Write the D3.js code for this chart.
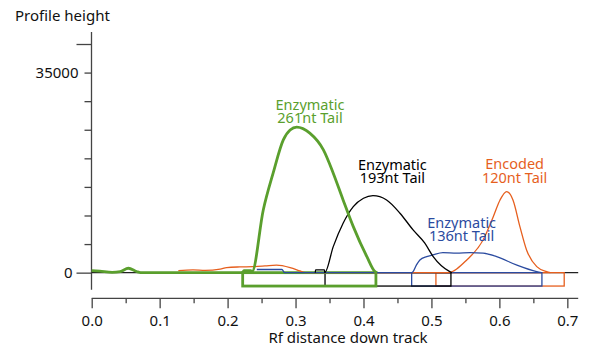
<!DOCTYPE html>
<html>
<head>
<meta charset="utf-8">
<script src="https://cdn.jsdelivr.net/npm/d3@7"></script>
<style>
  body { margin: 0; background: #fff; }
  text { font-family: "Noto Sans", sans-serif; }
</style>
</head>
<body>
<svg id="chart"></svg>
<script>
// profile traces: [Rf, height]
const green = [
  [0, 350], [0.012, 250], [0.03, 60], [0.042, 200], [0.054, 770], [0.066, 200], [0.072, 0],
  [0.222, 0], [0.224, 350], [0.234, 350], [0.236, 175], [0.2525, 10970], [0.267, 17400],
  [0.282, 23220], [0.292, 24950], [0.3017, 25450], [0.321, 24400], [0.341, 21470],
  [0.3555, 17400], [0.370, 12720], [0.385, 8050], [0.405, 2800], [0.417, 175], [0.42, 0]
];
const black = [
  [0.329, 0], [0.3295, 470], [0.3425, 470], [0.343, 0], [0.3555, 4550], [0.370, 8645],
  [0.385, 11550], [0.400, 13020], [0.414, 13475], [0.434, 12720], [0.4537, 10400],
  [0.473, 7470], [0.490, 5200], [0.5026, 2800], [0.527, 175], [0.53, 0]
];
const blue = [
  [0.243, 550], [0.28, 550], [0.284, 0], [0.471, 0], [0.473, 175], [0.478, 1350],
  [0.483, 2220], [0.493, 2800], [0.502, 3100], [0.517, 3500], [0.537, 3400], [0.557, 3500],
  [0.576, 3400], [0.596, 2800], [0.625, 1350], [0.655, 175], [0.662, 0]
];
const orange = [
  [0.1275, 350], [0.149, 470], [0.167, 385], [0.189, 600], [0.1986, 875], [0.218, 1000],
  [0.237, 1050], [0.255, 1170], [0.272, 1300], [0.292, 875], [0.3065, 300], [0.314, 0],
  [0.524, 0], [0.552, 2220], [0.576, 5720], [0.591, 9800], [0.601, 12720], [0.6107, 14175],
  [0.620, 12720], [0.6302, 8050], [0.640, 3970], [0.655, 1050], [0.6695, 175], [0.675, 0]
];

// band ranges under the baseline: [start, end]
const greenBand = [0.2222, 0.4183];
const blackBand = [0.3434, 0.5287];
const blueBand = [0.4709, 0.6626];
const orangeBand = [0.5066, 0.6954];

const labelLines = [
  ['Enzymatic', '261nt Tail'],
  ['Enzymatic', '193nt Tail'],
  ['Enzymatic', '136nt Tail'],
  ['Encoded', '120nt Tail']
];
// label anchor [Rf, height] of the top line
const labelAt = [[0.3213, 28500], [0.4425, 18000], [0.5445, 7850], [0.6225, 18050]];

const yTicks = [0, 5000, 10000, 15000, 20000, 25000, 30000, 35000, 40000];
const yLabelled = [0, 35000];
const xTicks = [0, 0.05, 0.1, 0.15, 0.2, 0.25, 0.3, 0.35, 0.4, 0.45, 0.5, 0.55, 0.6, 0.65, 0.7];

const width = 592, height = 347;
const svg = d3.select('#chart').attr('width', width).attr('height', height);

const x = d3.scaleLinear().domain([0, 0.716]).range([91.7, 578.2]);
const y = d3.scaleLinear().domain([-3000, 42100]).range([289.8, 32]);

const axisColor = '#444';

// y axis
const yAxis = svg.append('g')
  .attr('transform', 'translate(91.5,0)')
  .call(d3.axisLeft(y).tickValues(yTicks).tickSize(7)
    .tickFormat(d => yLabelled.includes(d) ? d : ''));
yAxis.select('.domain').remove();
yAxis.append('line').attr('y1', y(-3000)).attr('y2', y(42100))
  .attr('stroke', axisColor).attr('stroke-width', 1.3);
yAxis.selectAll('.tick line')
  .attr('x2', d => (d === 0 || d === 40000) ? -15 : -7)
  .attr('stroke', axisColor).attr('stroke-width', 1.3);
yAxis.selectAll('.tick text')
  .attr('x', d => d === 0 ? -19 : -13)
  .attr('font-size', 15).attr('fill', '#111');

// x axis
const xAxis = svg.append('g')
  .attr('transform', 'translate(0,298.3)')
  .call(d3.axisBottom(x).tickValues(xTicks).tickSize(10)
    .tickFormat(d => Math.round(d * 100) % 10 === 0 ? d3.format('.1f')(d) : ''));
xAxis.select('.domain').remove();
xAxis.append('line').attr('x1', x(0)).attr('x2', x(0.716))
  .attr('stroke', axisColor).attr('stroke-width', 1.3);
xAxis.selectAll('.tick line')
  .attr('y2', d => Math.round(d * 100) % 10 === 0 ? 10 : 5)
  .attr('stroke', axisColor).attr('stroke-width', 1.3);
xAxis.selectAll('.tick text')
  .attr('y', 28).attr('dy', 0)
  .attr('font-size', 15).attr('fill', '#111');

// axis titles
svg.append('text').attr('x', 15).attr('y', 21)
  .attr('font-size', 15).attr('fill', '#111').text('Profile height');
svg.append('text').attr('x', 348).attr('y', 343).attr('text-anchor', 'middle')
  .attr('font-size', 15).attr('fill', '#111').text('Rf distance down track');

// baseline
svg.append('line')
  .attr('x1', x(0)).attr('x2', x(0.716))
  .attr('y1', y(0)).attr('y2', y(0))
  .attr('stroke', '#222').attr('stroke-width', 1.2);

const series = [
  { data: orange, band: orangeBand, color: '#e65f1e', w: 1.3 },
  { data: blue, band: blueBand, color: '#2b4ba0', w: 1.3 },
  { data: black, band: blackBand, color: '#000000', w: 1.3 },
  { data: green, band: greenBand, color: '#5a9f2d', w: 2.8 }
];

const line = d3.line()
  .x(d => x(d[0]))
  .y(d => y(d[1]))
  .curve(d3.curveMonotoneX);

const boxDepth = 13.4;

series.forEach(s => {
  svg.append('rect')
    .attr('x', x(s.band[0]))
    .attr('y', y(0))
    .attr('width', x(s.band[1]) - x(s.band[0]))
    .attr('height', boxDepth)
    .attr('fill', 'none')
    .attr('stroke', s.color)
    .attr('stroke-width', s.w);
});

series.forEach(s => {
  svg.append('path')
    .datum(s.data)
    .attr('d', line)
    .attr('fill', 'none')
    .attr('stroke', s.color)
    .attr('stroke-width', s.w)
    .attr('stroke-linejoin', 'round');
});

// series labels
const labelColors = ['#5a9f2d', '#000000', '#2b4ba0', '#e65f1e'];
labelLines.forEach((lines, i) => {
  const t = svg.append('text')
    .attr('x', x(labelAt[i][0]))
    .attr('y', y(labelAt[i][1]))
    .attr('text-anchor', 'middle')
    .attr('font-size', 14.5)
    .attr('fill', labelColors[i]);
  lines.forEach((l, j) => {
    t.append('tspan').attr('x', x(labelAt[i][0])).attr('dy', j === 0 ? 0 : 13.6).text(l);
  });
});
</script>
</body>
</html>
